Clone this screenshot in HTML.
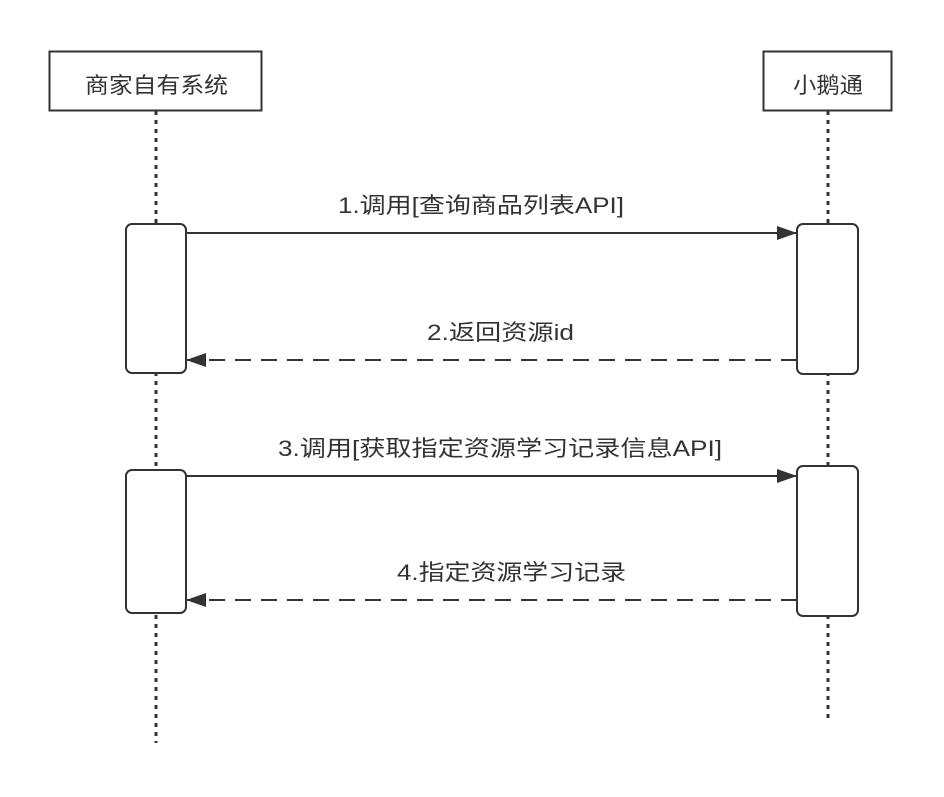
<!DOCTYPE html>
<html><head><meta charset="utf-8"><style>
html,body{margin:0;padding:0;background:#fff;}
svg text{font-family:"Liberation Sans","Noto Sans CJK SC",sans-serif;font-size:22px;fill:#333;}
</style></head><body>
<svg width="944" height="792" viewBox="0 0 944 792" xmlns="http://www.w3.org/2000/svg">
<defs>
<marker id="ahl" markerWidth="20" markerHeight="14" refX="20" refY="7" orient="auto" markerUnits="userSpaceOnUse">
<path d="M0,0 L20,7 L0,14 Z" fill="#333"/>
</marker>
</defs>
<g stroke="#333" stroke-width="3" stroke-dasharray="4 5">
<line x1="156" y1="111" x2="156" y2="743"/>
<line x1="828" y1="111" x2="828" y2="719"/>
</g>
<rect x="49.5" y="51.5" width="212" height="59" fill="#fff" stroke="#333" stroke-width="2"/>
<text x="85" y="93" textLength="143" lengthAdjust="spacingAndGlyphs">商家自有系统</text>
<rect x="763.5" y="51.5" width="128" height="59" fill="#fff" stroke="#333" stroke-width="2"/>
<text x="793" y="93" textLength="70" lengthAdjust="spacingAndGlyphs">小鹅通</text>
<g fill="#fff" stroke="#333" stroke-width="2">
<rect x="126" y="224" width="60" height="149" rx="6"/>
<rect x="797" y="224" width="61" height="150" rx="6"/>
<rect x="126" y="470" width="60" height="143" rx="6"/>
<rect x="797" y="466" width="61" height="150" rx="6"/>
</g>
<g stroke="#333" stroke-width="2" fill="none">
<line x1="186" y1="233" x2="797" y2="233" marker-end="url(#ahl)"/>
<line x1="797" y1="360" x2="186" y2="360" stroke-dasharray="16 10" marker-end="url(#ahl)"/>
<line x1="186" y1="476" x2="797" y2="476" marker-end="url(#ahl)"/>
<line x1="797" y1="600" x2="186" y2="600" stroke-dasharray="16 10" marker-end="url(#ahl)"/>
</g>
<text x="338" y="213" textLength="286" lengthAdjust="spacingAndGlyphs">1.调用[查询商品列表API]</text>
<text x="427" y="340" textLength="147" lengthAdjust="spacingAndGlyphs">2.返回资源id</text>
<text x="278" y="456" textLength="444" lengthAdjust="spacingAndGlyphs">3.调用[获取指定资源学习记录信息API]</text>
<text x="397" y="580" textLength="229" lengthAdjust="spacingAndGlyphs">4.指定资源学习记录</text>
</svg>
</body></html>
